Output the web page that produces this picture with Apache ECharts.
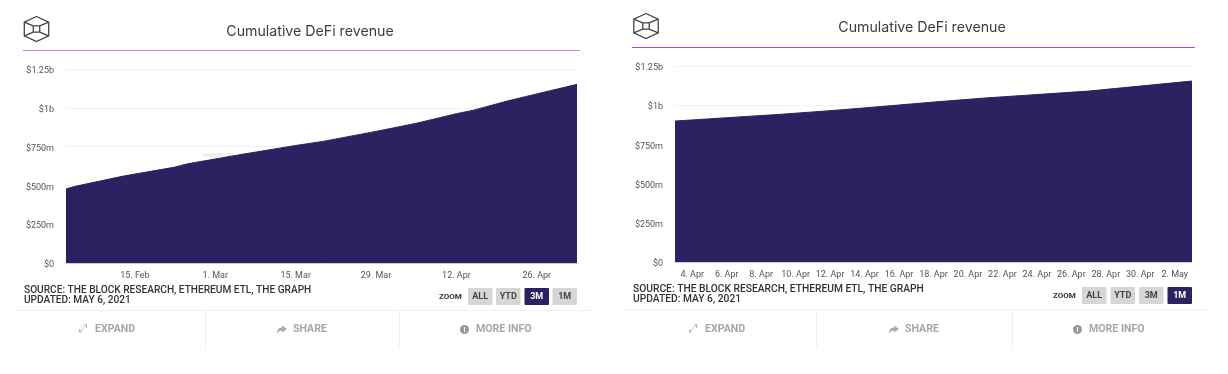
<!DOCTYPE html>
<html>
<head>
<meta charset="utf-8">
<title>Cumulative DeFi revenue</title>
<style>
  html, body { margin: 0; padding: 0; background: #fff; }
  #main { width: 1228px; height: 374px; }
</style>
<script src="https://cdn.jsdelivr.net/npm/echarts@6/dist/echarts.min.js"></script>
</head>
<body>
<div id="main"></div>
<script>
// values in millions of USD
const threeMonthDates = ['2021-02-03', '2021-02-04', '2021-02-05', '2021-02-13', '2021-02-22', '2021-02-24', '2021-03-01', '2021-03-05', '2021-03-15', '2021-03-20', '2021-03-29', '2021-04-05', '2021-04-12', '2021-04-15', '2021-04-21', '2021-04-24', '2021-05-03'];
const threeMonthValues = [477, 488, 497, 560, 618, 638, 670, 696, 757, 785, 848, 900, 962, 985, 1045, 1072, 1151];
const threeMonthTicks = ['2021-02-15', '2021-03-01', '2021-03-15', '2021-03-29', '2021-04-12', '2021-04-26'];

const oneMonthDates = ['2021-04-03', '2021-04-06', '2021-04-09', '2021-04-12', '2021-04-15', '2021-04-18', '2021-04-21', '2021-04-24', '2021-04-27', '2021-04-30', '2021-05-03'];
const oneMonthValues = [899, 920, 941, 965, 992, 1020, 1046, 1068, 1090, 1122, 1154];
const oneMonthTicks = ['2021-04-04', '2021-04-06', '2021-04-08', '2021-04-10', '2021-04-12', '2021-04-14', '2021-04-16', '2021-04-18', '2021-04-20', '2021-04-22', '2021-04-24', '2021-04-26', '2021-04-28', '2021-04-30', '2021-05-02'];

const yTicks = [0, 250, 500, 750, 1000, 1250];
const yTickLabels = ['$0', '$250m', '$500m', '$750m', '$1b', '$1.25b'];
const monthNames = ['Jan', 'Feb', 'Mar', 'Apr', 'May', 'Jun', 'Jul', 'Aug', 'Sep', 'Oct', 'Nov', 'Dec'];
const zoomButtons = ['ALL', 'YTD', '3M', '1M'];

const chartTitle = 'Cumulative DeFi revenue';
const sourceText = 'SOURCE: THE BLOCK RESEARCH, ETHEREUM ETL, THE GRAPH';
const updatedText = 'UPDATED: MAY 6, 2021';

const FONT = 'Roboto, sans-serif';
const NAVY = '#2b2361';

const myChart = echarts.init(document.getElementById('main'), null, { renderer: 'canvas' });

function toTime(s) {
  const p = s.split('-');
  return new Date(+p[0], +p[1] - 1, +p[2]).getTime();
}

function dayLabel(v) {
  const d = new Date(v);
  return d.getDate() + '. ' + monthNames[d.getMonth()];
}

// value axis holding timestamps, the time scale chokes on customValues
function makeXAxis(idx, dates, ticks) {
  return {
    type: 'value',
    gridIndex: idx,
    min: toTime(dates[0]),
    max: toTime(dates[dates.length - 1]),
    axisLine: { show: true, onZero: false, lineStyle: { color: '#c9cbd6', width: 1 } },
    axisTick: { show: false },
    splitLine: { show: false },
    axisLabel: {
      customValues: ticks.map(toTime),
      formatter: dayLabel,
      color: '#555',
      fontFamily: FONT,
      fontSize: 9,
      margin: 8
    }
  };
}

function makeYAxis(idx) {
  return {
    type: 'value',
    gridIndex: idx,
    min: 0,
    max: 1250,
    interval: 250,
    axisLine: { show: false },
    axisTick: { show: false },
    splitLine: { lineStyle: { color: '#f2f2f2', width: 1 } },
    axisLabel: {
      formatter: v => yTickLabels[yTicks.indexOf(v)],
      color: '#555',
      fontFamily: FONT,
      fontSize: 9,
      margin: 12,
      // labels sit slightly below their gridline in the original
      verticalAlign: 'top',
      lineHeight: 4
    }
  };
}

function makeSeries(idx, dates, values) {
  return {
    type: 'line',
    xAxisIndex: idx,
    yAxisIndex: idx,
    showSymbol: false,
    silent: true,
    animation: false,
    data: dates.map((d, i) => [toTime(d), values[i]]),
    lineStyle: { color: NAVY, width: 1 },
    areaStyle: { color: NAVY, opacity: 1 }
  };
}

// page furniture around the plot: logo, rule, source note, zoom buttons, action bar
function logo(cx, cy) {
  const s = { stroke: '#444', lineWidth: 1.3, fill: null };
  const r = 12.5, h = 6.8, w = 12.2, ir = 3.2;
  const outer = [[cx, cy - r], [cx + w, cy - h], [cx + w, cy + h], [cx, cy + r], [cx - w, cy + h], [cx - w, cy - h], [cx, cy - r]];
  const inner = [[cx - ir, cy - ir], [cx + ir, cy - ir], [cx + ir, cy + ir], [cx - ir, cy + ir], [cx - ir, cy - ir]];
  const els = [
    { type: 'polyline', shape: { points: outer }, style: s },
    { type: 'polyline', shape: { points: inner }, style: s }
  ];
  [[[cx - w, cy - h], [cx - ir, cy - ir]], [[cx + w, cy - h], [cx + ir, cy - ir]], [[cx + w, cy + h], [cx + ir, cy + ir]], [[cx - w, cy + h], [cx - ir, cy + ir]]].forEach(p => {
    els.push({ type: 'polyline', shape: { points: p }, style: s });
  });
  return els;
}

function label(x, y, text, size, color, weight, align, family) {
  return {
    type: 'text', x: x, y: y,
    style: {
      text: text, fill: color, fontSize: size, fontWeight: weight || 'normal',
      fontFamily: family || FONT, align: align || 'left', verticalAlign: 'middle'
    }
  };
}

function hline(x1, x2, y, color) {
  return { type: 'line', shape: { x1: x1, y1: y + 0.5, x2: x2, y2: y + 0.5 }, style: { stroke: color, lineWidth: 1 } };
}
function vline(x, y1, y2, color) {
  return { type: 'line', shape: { x1: x + 0.5, y1: y1, x2: x + 0.5, y2: y2 }, style: { stroke: color, lineWidth: 1 } };
}

function panel(p) {
  let els = logo(p.logoX, p.logoY);
  els.push({ type: 'rect', shape: { x: p.ruleX1, y: p.ruleY, width: p.ruleX2 - p.ruleX1, height: 1 }, style: { fill: p.ruleColor } });
  // watermark
  els.push(Object.assign(label(p.markX, p.markY, 'THE BLOCK', 33, 'rgba(40,40,50,0.08)', 'bold', 'center', 'Inter, sans-serif'), { z: 20 }));
  els.push(label(p.textX, p.sourceY, sourceText, p.sourceSize, '#333', 500));
  els.push(label(p.textX, p.sourceY + 10, updatedText, p.sourceSize, '#333', 500));
  els.push(hline(p.footX1, p.footX2, p.footY, '#f0f0f0'));
  els.push(vline(p.v1, p.footY, 348, '#f0f0f0'));
  els.push(vline(p.v2, p.footY, 348, '#f0f0f0'));
  // zoom buttons
  els.push(label(p.zoomX, p.btnY + 8.5, 'ZOOM', 8, '#333', 'bold'));
  zoomButtons.forEach((b, i) => {
    const on = b === p.active;
    const x = p.btnX[i];
    els.push({ type: 'rect', shape: { x: x, y: p.btnY, width: 24.5, height: 17, r: 1 }, style: { fill: on ? NAVY : '#d6d6d6' } });
    els.push(label(x + 12.2, p.btnY + 9, b, 9, on ? '#fff' : '#444', 'bold', 'center'));
  });
  // action bar
  const y = 329.5;
  els.push(label(p.expandX - 16, y, '\u2922', 11, '#aaa', 'normal', 'left', 'DejaVu Sans'));
  els.push(label(p.expandX, y, 'EXPAND', 10.6, '#a6a6a6', 'bold'));
  const sx = p.shareX - 16, sy = y - 4;
  els.push({
    type: 'polygon',
    shape: { points: [[sx + 5, sy], [sx + 10, sy + 3.5], [sx + 5, sy + 7], [sx + 5, sy + 5], [sx + 2.5, sy + 5.4], [sx, sy + 8], [sx + 0.6, sy + 4.5], [sx + 2.2, sy + 2.6], [sx + 5, sy + 2]] },
    style: { fill: '#aaa' }
  });
  els.push(label(p.shareX, y, 'SHARE', 10.6, '#a6a6a6', 'bold'));
  els.push({ type: 'circle', shape: { cx: p.infoX - 11.5, cy: y, r: 4.5 }, style: { fill: '#999' } });
  els.push(label(p.infoX - 11.5, y + 0.5, '!', 7, '#fff', 'bold', 'center'));
  els.push(label(p.infoX, y, 'MORE INFO', 10.6, '#a6a6a6', 'bold'));
  return els;
}

const graphics = panel({
  logoX: 36.5, logoY: 29, ruleX1: 23, ruleX2: 580, ruleY: 50, ruleColor: '#cf7ff0',
  markX: 296, markY: 167, textX: 24, sourceY: 290, sourceSize: 10.15, footX1: 15, footX2: 592, footY: 310, v1: 205, v2: 399,
  zoomX: 439, btnY: 288, btnX: [468, 496, 524.5, 552.5], active: '3M',
  expandX: 95, shareX: 293, infoX: 476
}).concat(panel({
  logoX: 646, logoY: 26, ruleX1: 632, ruleX2: 1195, ruleY: 47, ruleColor: '#a64cd8',
  markX: 908, markY: 165, textX: 633, sourceY: 289, sourceSize: 10.25, footX1: 623, footX2: 1207, footY: 309, v1: 816, v2: 1012,
  zoomX: 1053, btnY: 287, btnX: [1082, 1110.5, 1139, 1167.5], active: '1M',
  expandX: 705, shareX: 905, infoX: 1089
}));

const option = {
  animation: false,
  backgroundColor: '#fff',
  textStyle: { fontFamily: FONT },
  title: [
    { text: chartTitle, left: 305, top: 20, textAlign: 'center', textStyle: { fontFamily: 'Inter, sans-serif', fontSize: 14.2, fontWeight: 'normal', color: '#3c3c3c' } },
    { text: chartTitle, left: 917, top: 16, textAlign: 'center', textStyle: { fontFamily: 'Inter, sans-serif', fontSize: 14.2, fontWeight: 'normal', color: '#3c3c3c' } }
  ],
  grid: [
    { left: 66, right: 1228 - 577, top: 69, height: 194 },
    { left: 675, right: 1228 - 1192, top: 66, height: 196 }
  ],
  xAxis: [makeXAxis(0, threeMonthDates, threeMonthTicks), makeXAxis(1, oneMonthDates, oneMonthTicks)],
  yAxis: [makeYAxis(0), makeYAxis(1)],
  series: [makeSeries(0, threeMonthDates, threeMonthValues), makeSeries(1, oneMonthDates, oneMonthValues)],
  graphic: { elements: graphics }
};

myChart.setOption(option);
</script>
</body>
</html>
